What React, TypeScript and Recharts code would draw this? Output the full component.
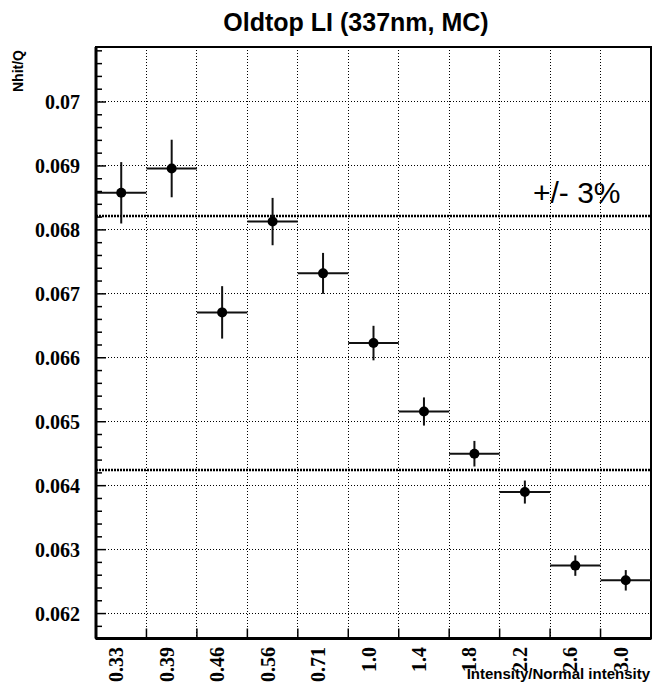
import React from 'react'
import {
  ComposedChart,
  Scatter,
  ErrorBar,
  XAxis,
  YAxis,
  CartesianGrid,
  ReferenceLine,
  ReferenceArea
} from 'recharts'

// intensity bins (relative to normal intensity)
const binLabels = ['0.33', '0.39', '0.46', '0.56', '0.71', '1.0', '1.4', '1.8', '2.2', '2.6', '3.0']
// Nhit/Q per bin and its statistical error
const nhitQ = [0.06858, 0.06896, 0.06671, 0.06813, 0.06732, 0.06623, 0.06516, 0.0645, 0.0639, 0.06275, 0.06252]
const nhitQErr = [0.00048, 0.00045, 0.00041, 0.00037, 0.00032, 0.00027, 0.00022, 0.0002, 0.00018, 0.00016, 0.00016]

const yMajorTicks = [0.062, 0.063, 0.064, 0.065, 0.066, 0.067, 0.068, 0.069, 0.07]
const yTickLabels = ['0.062', '0.063', '0.064', '0.065', '0.066', '0.067', '0.068', '0.069', '0.07']

const Y_MIN = 0.06161
const Y_MAX = 0.07086
const MINOR_STEP = 0.0002
const BAND = 0.03

const W = 654
const H = 689

// band is drawn around the normal-intensity point
const refValue = nhitQ[binLabels.indexOf('1.0')]

const points = binLabels.map((label, i) => ({
  label,
  x: i + 0.5,
  y: nhitQ[i],
  ex: 0.5,
  ey: nhitQErr[i]
}))

const binEdges = binLabels.slice(1).map((_, i) => i + 1)
const xTicks = [0, ...binLabels.flatMap((_, i) => [i + 0.5, i + 1])]

const yTicks: number[] = []
for (let k = Math.ceil(Y_MIN / MINOR_STEP); k * MINOR_STEP <= Y_MAX; k++) yTicks.push(k * MINOR_STEP)

const serif = '"Liberation Serif", "Times New Roman", serif'
const sans = '"Liberation Sans", Arial, Helvetica, sans-serif'

function XTick(props: any) {
  const { x, y, payload } = props
  const v = payload.value
  if (Number.isInteger(v)) {
    if (v === 0 || v === binLabels.length) return null
    return <line x1={x} x2={x} y1={y} y2={y - 10} stroke="#000" strokeWidth={1.5} />
  }
  const label = binLabels[Math.floor(v)]
  const tx = x + 2
  const ty = y + 8.5
  return (
    <text
      x={tx}
      y={ty}
      transform={`rotate(-90 ${tx} ${ty})`}
      textAnchor="end"
      fontFamily={serif}
      fontWeight="bold"
      fontSize={20}
      fill="#000"
    >
      {label}
    </text>
  )
}

function YTick(props: any) {
  const { x, y, payload } = props
  const v = payload.value
  const major = yMajorTicks.findIndex((t) => Math.abs(t - v) < 1e-7)
  if (major < 0) return <line x1={x} x2={x + 6} y1={y} y2={y} stroke="#000" strokeWidth={1.5} />
  return (
    <g>
      <line x1={x} x2={x + 10} y1={y} y2={y} stroke="#000" strokeWidth={1.5} />
      <text x={x - 16} y={y} dy={7} textAnchor="end" fontFamily={serif} fontWeight="bold" fontSize={20} fill="#000">
        {yTickLabels[major]}
      </text>
    </g>
  )
}

const Dot = (props: any) => <circle cx={props.cx} cy={props.cy} r={5} fill="#000" />

export default function App() {
  return (
    <div style={{ position: 'absolute', left: 0, top: 0, width: W, height: H, background: '#fff' }}>
      <ComposedChart width={W} height={H} data={points} margin={{ top: 47, right: 3, bottom: 0, left: 0 }}>
        <CartesianGrid
          horizontalValues={yMajorTicks}
          verticalValues={binEdges}
          stroke="#000"
          strokeWidth={1}
          strokeDasharray="1 2"
          shapeRendering="crispEdges"
        />
        <XAxis
          type="number"
          dataKey="x"
          domain={[0, binLabels.length]}
          ticks={xTicks}
          interval={0}
          tickSize={0}
          tickMargin={0}
          tickLine={false}
          tick={<XTick />}
          height={50.5}
          axisLine={{ stroke: '#000', strokeWidth: 3 }}
          allowDataOverflow
        />
        <YAxis
          type="number"
          dataKey="y"
          domain={[Y_MIN, Y_MAX]}
          ticks={yTicks}
          interval={0}
          tickSize={0}
          tickMargin={0}
          tickLine={false}
          tick={<YTick />}
          width={96}
          axisLine={{ stroke: '#000', strokeWidth: 3 }}
          allowDataOverflow
        />
        <ReferenceArea
          x1={0}
          x2={binLabels.length}
          y1={Y_MIN}
          y2={Y_MAX}
          fill="none"
          fillOpacity={0}
          stroke="#000"
          strokeWidth={2}
        />
        <ReferenceLine y={refValue * (1 + BAND)} stroke="#000" strokeWidth={2.5} strokeDasharray="2 1" />
        <ReferenceLine y={refValue * (1 - BAND)} stroke="#000" strokeWidth={2.5} strokeDasharray="2 1" />
        <Scatter dataKey="y" shape={Dot} isAnimationActive={false}>
          <ErrorBar dataKey="ex" direction="x" width={0} stroke="#111" strokeWidth={2} />
          <ErrorBar dataKey="ey" direction="y" width={0} stroke="#111" strokeWidth={2} />
        </Scatter>
        <text x={356} y={31} textAnchor="middle" fontFamily={sans} fontWeight="bold" fontSize={25} fill="#000">
          Oldtop LI (337nm, MC)
        </text>
        <text
          x={23}
          y={50}
          transform="rotate(-90 23 50)"
          textAnchor="end"
          fontFamily={sans}
          fontWeight="bold"
          fontSize={14}
          fill="#000"
        >
          Nhit/Q
        </text>
        <text x={650} y={679} textAnchor="end" fontFamily={sans} fontWeight="bold" fontSize={15} fill="#000">
          Intensity/Normal intensity
        </text>
        <text x={533} y={203} fontFamily={sans} fontSize={30} fill="#000">
          +/- 3%
        </text>
      </ComposedChart>
    </div>
  )
}
